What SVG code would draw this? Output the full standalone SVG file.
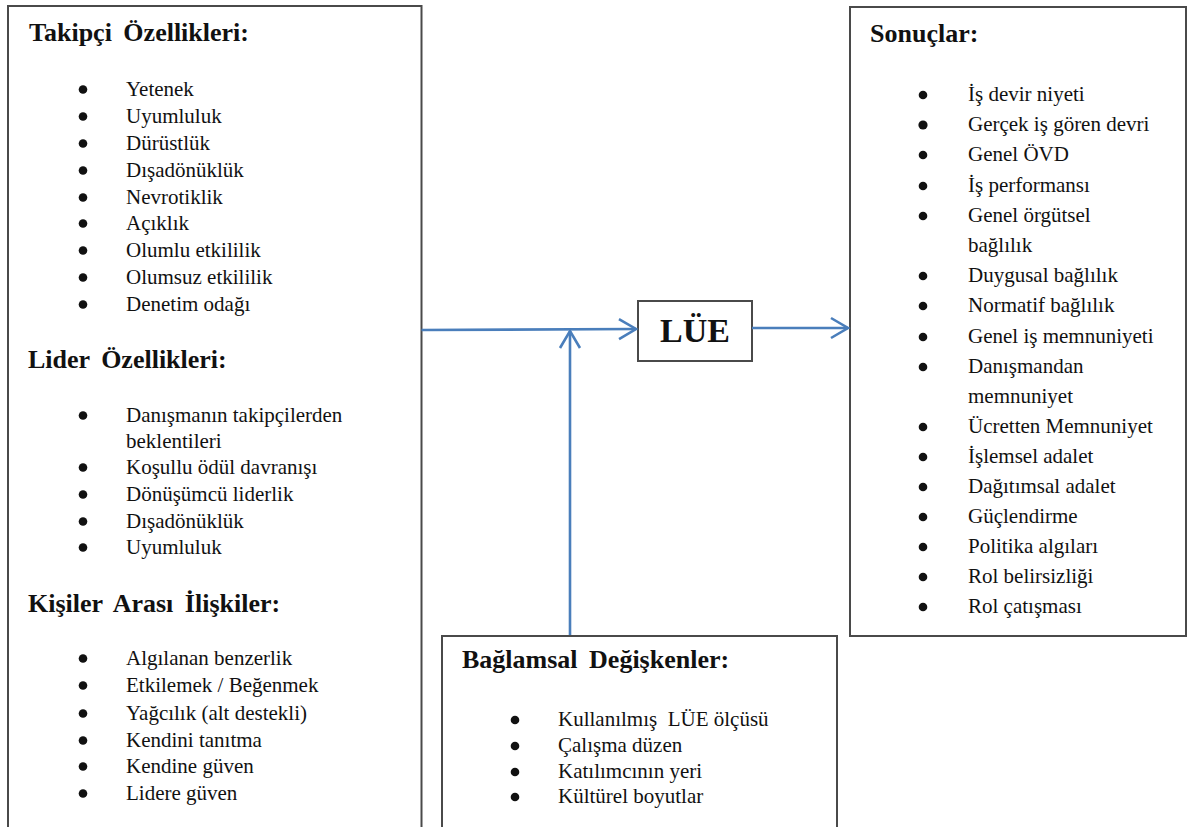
<svg xmlns="http://www.w3.org/2000/svg" width="1191" height="827" viewBox="0 0 1191 827">
  <style>
    .box { fill: #ffffff; stroke: #4a4a4a; stroke-width: 2; }
    .head { font-family: "Liberation Serif", "Times New Roman", serif; font-weight: bold; font-size: 26px; fill: #111; word-spacing: 5px; }
    .item { font-family: "Liberation Serif", "Times New Roman", serif; font-size: 21px; fill: #111; white-space: pre; }
    .bul { fill: #111; }
    .conn { fill: none; stroke: #4a7ebb; stroke-width: 2.6; }
    .lue { font-family: "Liberation Serif", "Times New Roman", serif; font-weight: bold; font-size: 34px; fill: #111; }
  </style>
  <defs>
    <marker id="chev" markerUnits="userSpaceOnUse" viewBox="0 0 22 24" refX="19" refY="12" markerWidth="22" markerHeight="24" orient="auto">
      <path d="M2,2 L19,12 L2,22" fill="none" stroke="#4a7ebb" stroke-width="2.6"/>
    </marker>
  </defs>
  <rect width="1191" height="827" fill="#ffffff"/>

  <!-- Follower, leader and interpersonal antecedents -->
  <g id="antecedents">
    <rect class="box" x="8" y="6" width="413.5" height="840"/>
    <text class="head" x="29" y="41">Takipçi Özellikleri:</text>
    <g class="bul">
      <circle cx="83" cy="89.5" r="4.3"/><circle cx="83" cy="116.5" r="4.3"/><circle cx="83" cy="143.5" r="4.3"/>
      <circle cx="83" cy="170.5" r="4.3"/><circle cx="83" cy="197.5" r="4.3"/><circle cx="83" cy="223.5" r="4.3"/>
      <circle cx="83" cy="250.5" r="4.3"/><circle cx="83" cy="277.5" r="4.3"/><circle cx="83" cy="304.5" r="4.3"/>
    </g>
    <text class="item" x="126" y="96">Yetenek</text>
    <text class="item" x="126" y="123">Uyumluluk</text>
    <text class="item" x="126" y="150">Dürüstlük</text>
    <text class="item" x="126" y="177">Dışadönüklük</text>
    <text class="item" x="126" y="204">Nevrotiklik</text>
    <text class="item" x="126" y="230">Açıklık</text>
    <text class="item" x="126" y="257">Olumlu etkililik</text>
    <text class="item" x="126" y="284">Olumsuz etkililik</text>
    <text class="item" x="126" y="311">Denetim odağı</text>

    <text class="head" x="28" y="368">Lider Özellikleri:</text>
    <g class="bul">
      <circle cx="83" cy="415.5" r="4.3"/><circle cx="83" cy="467.5" r="4.3"/><circle cx="83" cy="494.5" r="4.3"/>
      <circle cx="83" cy="521.5" r="4.3"/><circle cx="83" cy="547.5" r="4.3"/>
    </g>
    <text class="item" x="126" y="422">Danışmanın takipçilerden</text>
    <text class="item" x="126" y="448">beklentileri</text>
    <text class="item" x="126" y="474">Koşullu ödül davranışı</text>
    <text class="item" x="126" y="501">Dönüşümcü liderlik</text>
    <text class="item" x="126" y="528">Dışadönüklük</text>
    <text class="item" x="126" y="554">Uyumluluk</text>

    <text class="head" x="28" y="612">Kişiler Arası İlişkiler:</text>
    <g class="bul">
      <circle cx="83" cy="658.5" r="4.3"/><circle cx="83" cy="685.5" r="4.3"/><circle cx="83" cy="713.5" r="4.3"/>
      <circle cx="83" cy="740.5" r="4.3"/><circle cx="83" cy="766.5" r="4.3"/><circle cx="83" cy="793.5" r="4.3"/>
    </g>
    <text class="item" x="126" y="665">Algılanan benzerlik</text>
    <text class="item" x="126" y="692">Etkilemek / Beğenmek</text>
    <text class="item" x="126" y="720">Yağcılık (alt destekli)</text>
    <text class="item" x="126" y="747">Kendini tanıtma</text>
    <text class="item" x="126" y="773">Kendine güven</text>
    <text class="item" x="126" y="800">Lidere güven</text>
  </g>

  <!-- Central construct -->
  <g id="lue">
    <rect class="box" x="638" y="301" width="114" height="60"/>
    <text class="lue" x="695" y="342" text-anchor="middle">LÜE</text>
  </g>

  <!-- Outcomes -->
  <g id="outcomes">
    <rect class="box" x="850" y="7" width="336" height="629"/>
    <text class="head" x="870" y="42">Sonuçlar:</text>
    <g class="bul">
      <circle cx="923" cy="95" r="4.3"/><circle cx="923" cy="125" r="4.6"/><circle cx="923" cy="155" r="4.3"/>
      <circle cx="923" cy="186" r="4.3"/><circle cx="923" cy="216" r="4.3"/><circle cx="923" cy="276" r="4.3"/>
      <circle cx="923" cy="306" r="4.3"/><circle cx="923" cy="337" r="4.3"/><circle cx="923" cy="367" r="4.3"/>
      <circle cx="923" cy="427" r="4.3"/><circle cx="923" cy="457" r="4.3"/><circle cx="923" cy="487" r="4.3"/>
      <circle cx="923" cy="517" r="4.3"/><circle cx="923" cy="547" r="4.3"/><circle cx="923" cy="577" r="4.3"/>
      <circle cx="923" cy="607" r="4.3"/>
    </g>
    <text class="item" x="968" y="101">İş devir niyeti</text>
    <text class="item" x="968" y="131">Gerçek iş gören devri</text>
    <text class="item" x="968" y="161">Genel ÖVD</text>
    <text class="item" x="968" y="192">İş performansı</text>
    <text class="item" x="968" y="222">Genel örgütsel</text>
    <text class="item" x="968" y="252">bağlılık</text>
    <text class="item" x="968" y="282">Duygusal bağlılık</text>
    <text class="item" x="968" y="312">Normatif bağlılık</text>
    <text class="item" x="968" y="343">Genel iş memnuniyeti</text>
    <text class="item" x="968" y="373">Danışmandan</text>
    <text class="item" x="968" y="403">memnuniyet</text>
    <text class="item" x="968" y="433">Ücretten Memnuniyet</text>
    <text class="item" x="968" y="463">İşlemsel adalet</text>
    <text class="item" x="968" y="493">Dağıtımsal adalet</text>
    <text class="item" x="968" y="523">Güçlendirme</text>
    <text class="item" x="968" y="553">Politika algıları</text>
    <text class="item" x="968" y="583">Rol belirsizliği</text>
    <text class="item" x="968" y="613">Rol çatışması</text>
  </g>

  <!-- Contextual moderators -->
  <g id="context">
    <rect class="box" x="442" y="636" width="395" height="210"/>
    <text class="head" x="462" y="668">Bağlamsal Değişkenler:</text>
    <g class="bul">
      <circle cx="515" cy="720" r="4.3"/><circle cx="515" cy="746" r="4.3"/>
      <circle cx="515" cy="772" r="4.3"/><circle cx="515" cy="797" r="4.3"/>
    </g>
    <text class="item" x="558" y="726">Kullanılmış  LÜE ölçüsü</text>
    <text class="item" x="558" y="752">Çalışma düzen</text>
    <text class="item" x="558" y="778">Katılımcının yeri</text>
    <text class="item" x="558" y="803">Kültürel boyutlar</text>
  </g>

  <!-- Connectors -->
  <g id="connectors">
    <path class="conn" d="M421.5,330 L636,329" marker-end="url(#chev)"/>
    <path class="conn" d="M752,328 L848,328" marker-end="url(#chev)"/>
    <path class="conn" d="M570,635 L570,331" marker-end="url(#chev)"/>
  </g>
</svg>
